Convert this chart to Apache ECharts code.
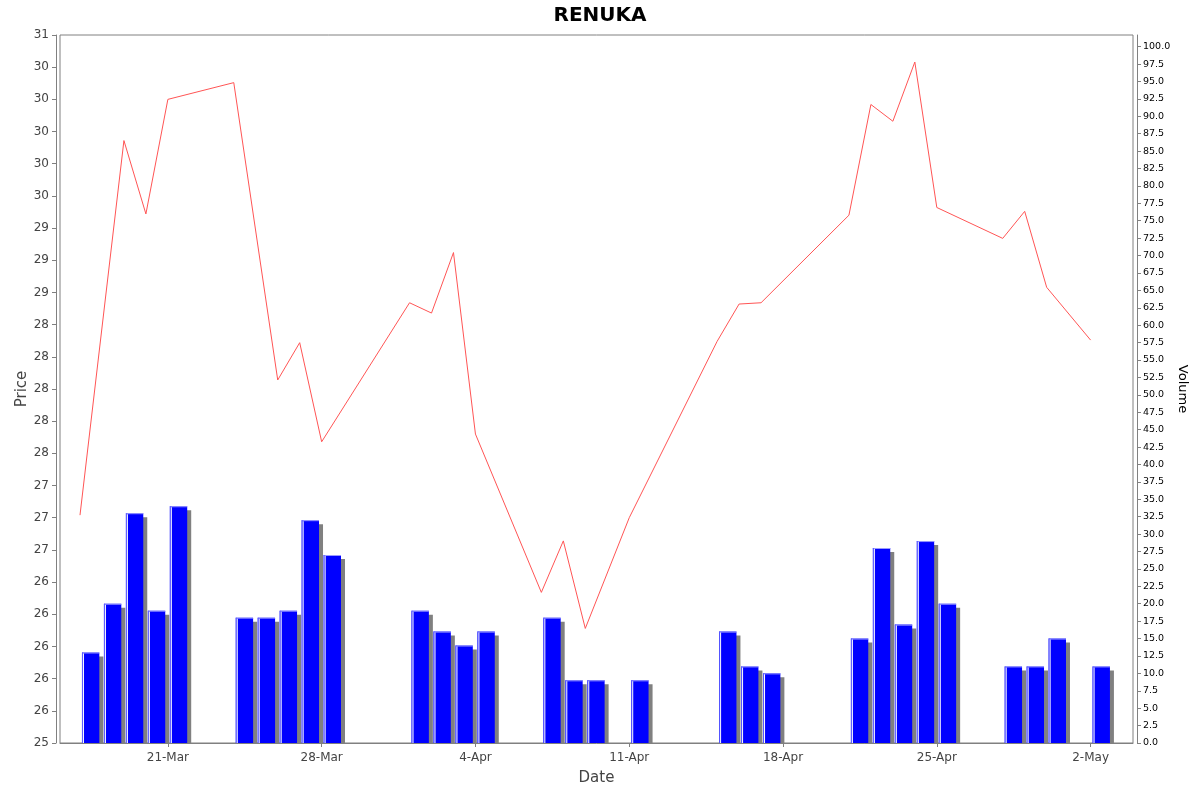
<!DOCTYPE html>
<html>
<head>
<meta charset="utf-8">
<title>RENUKA</title>
<script src="https://cdn.jsdelivr.net/npm/echarts@6/dist/echarts.min.js"></script>
<style>
html,body{margin:0;padding:0;background:#fff;}
#main{width:1200px;height:792px;}
</style>
</head>
<body>
<div id="main"></div>
<script>
// trading days
var dates = [
  '2014-03-17','2014-03-18','2014-03-19','2014-03-20','2014-03-21',
  '2014-03-24','2014-03-25','2014-03-26','2014-03-27','2014-03-28',
  '2014-04-01','2014-04-02','2014-04-03','2014-04-04',
  '2014-04-07','2014-04-08','2014-04-09','2014-04-11',
  '2014-04-15','2014-04-16','2014-04-17',
  '2014-04-21','2014-04-22','2014-04-23','2014-04-24','2014-04-25',
  '2014-04-28','2014-04-29','2014-04-30','2014-05-02'
];
var volumes = [
  13, 20, 33, 19, 34,
  18, 18, 19, 32, 27,
  19, 16, 14, 16,
  18, 9, 9, 9,
  16, 11, 10,
  15, 28, 17, 29, 20,
  11, 11, 15, 11
];
// null = no price that day
var prices = [
  27.02, null, 29.93, 29.36, 30.25,
  30.38, null, 28.07, 28.36, 27.59,
  28.67, 28.59, 29.06, 27.65,
  26.42, 26.82, 26.14, 27.00,
  28.37, 28.66, 28.67,
  29.35, 30.21, 30.08, 30.54, 29.41,
  29.17, 29.38, 28.79, 28.38
];
var tickDates = ['2014-03-21','2014-03-28','2014-04-04','2014-04-11','2014-04-18','2014-04-25','2014-05-02'];
var tickLabels = ['21-Mar','28-Mar','4-Apr','11-Apr','18-Apr','25-Apr','2-May'];

function dayNum(s){
  var p = s.split('-');
  return Date.UTC(+p[0], p[1]-1, +p[2]) / 86400000;
}
// labels are rounded to whole numbers, half to even
function halfEven(v){
  var f = Math.floor(v + 1e-9);
  var d = v - f;
  if (Math.abs(d - 0.5) < 1e-6) return (f % 2 === 0) ? f : f + 1;
  return Math.round(v);
}

var tickDays = tickDates.map(dayNum);
var priceData = [], volData = [];
for (var i = 0; i < dates.length; i++){
  priceData.push([dayNum(dates[i]), prices[i]]);
  volData.push([dayNum(dates[i]), volumes[i]]);
}

/* volume bar with shadow */
function renderBar(params, api){
  var d = api.value(0), v = api.value(1);
  var tl = api.coord([d + 0.09, v]);
  var br = api.coord([d + 0.88, 0]);
  var w = br[0] - tl[0], h = br[1] - tl[1];
  return {
    type: 'group',
    children: [
      {type:'rect', shape:{x:tl[0]+4, y:tl[1]+4, width:w, height:Math.max(0, h-4)}, style:{fill:'#808080'}},
      {type:'rect', shape:{x:tl[0], y:tl[1], width:w, height:h}, style:{fill:'#0000ff'}},
      {type:'rect', shape:{x:tl[0], y:tl[1], width:w, height:1}, style:{fill:'#9a9aff'}},
      {type:'rect', shape:{x:tl[0], y:tl[1], width:1, height:h}, style:{fill:'#5a5aff'}},
      {type:'rect', shape:{x:tl[0]+1, y:tl[1]+1, width:1, height:h-1}, style:{fill:'#ffffff'}}
    ]
  };
}

var font = 'DejaVu Sans';
var myChart = echarts.init(document.getElementById('main'));
var option = {
  animation: false,
  backgroundColor: '#fff',
  title: {
    text: 'RENUKA',
    left: 'center',
    top: 1,
    textStyle: {fontFamily: font, fontSize: 20, fontWeight: 'bold', color: '#000'}
  },
  grid: {
    left: 60, right: 67, top: 35, bottom: 49,
    show: true, borderColor: '#808080', borderWidth: 1,
    outerBoundsMode: 'none'
  },
  xAxis: {
    type: 'value',
    min: dayNum(dates[0]) - 0.91,
    max: dayNum(dates[dates.length-1]) + 1.93,
    offset: 4,
    name: 'Date',
    nameLocation: 'middle',
    nameGap: 24,
    nameMoveOverlap: false,
    nameTextStyle: {fontFamily: font, fontSize: 15, color: '#444'},
    axisLine: {show: true, lineStyle: {color: '#808080'}},
    axisTick: {show: true, length: 4, customValues: tickDays, lineStyle: {color: '#808080'}},
    axisLabel: {
      customValues: tickDays,
      margin: 5,
      fontFamily: font, fontSize: 12, color: '#444',
      formatter: function(v){ return tickLabels[tickDays.indexOf(v)] || ''; }
    },
    splitLine: {show: false}
  },
  yAxis: [
    {
      type: 'value',
      position: 'left',
      min: 25.25, max: 30.75, interval: 0.25,
      offset: 4,
      name: 'Price',
      nameLocation: 'middle',
      nameGap: 26,
      nameMoveOverlap: false,
      nameTextStyle: {fontFamily: font, fontSize: 15, color: '#444'},
      axisLine: {show: true, lineStyle: {color: '#808080'}},
      axisTick: {show: true, length: 4, lineStyle: {color: '#808080'}},
      axisLabel: {
        margin: 7, fontFamily: font, fontSize: 12, color: '#444',
        formatter: function(v){ return String(halfEven(v)); }
      },
      splitLine: {show: false}
    },
    {
      type: 'value',
      position: 'right',
      min: 0, max: 101.67, interval: 2.5,
      offset: 4,
      name: 'Volume',
      nameLocation: 'middle',
      nameRotate: -90,
      nameGap: 39,
      nameMoveOverlap: false,
      nameTextStyle: {fontFamily: font, fontSize: 13, color: '#000'},
      axisLine: {show: true, lineStyle: {color: '#808080'}},
      axisTick: {show: true, length: 4, lineStyle: {color: '#808080'}},
      axisLabel: {
        margin: 6, fontFamily: font, fontSize: 9.5, color: '#000',
        showMaxLabel: false,
        formatter: function(v){ return v.toFixed(1); }
      },
      splitLine: {show: false}
    }
  ],
  series: [
    {
      name: 'Volume',
      type: 'custom',
      xAxisIndex: 0,
      yAxisIndex: 1,
      clip: true,
      renderItem: renderBar,
      data: volData,
      z: 1
    },
    {
      name: 'Price',
      type: 'line',
      xAxisIndex: 0,
      yAxisIndex: 0,
      data: priceData,
      connectNulls: true,
      showSymbol: false,
      symbol: 'none',
      lineStyle: {color: '#ff5555', width: 1},
      z: 3
    }
  ]
};
myChart.setOption(option);
</script>
</body>
</html>
